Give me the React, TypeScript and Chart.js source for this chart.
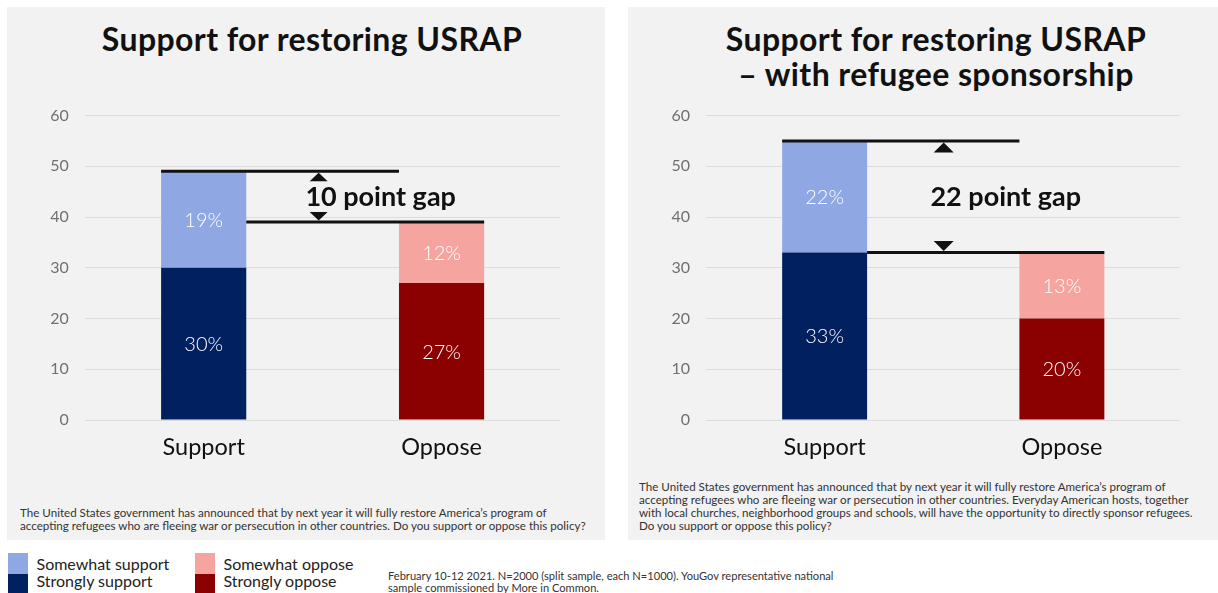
import React, { useEffect, useRef } from 'react';
import { Chart, registerables } from 'chart.js';

Chart.register(...registerables);

// ---- data ----
const categories = ['Support', 'Oppose'];
const seriesNames = ['Strongly support', 'Somewhat support', 'Strongly oppose', 'Somewhat oppose'];
const seriesColors = ['#002060', '#8fa8e4', '#8b0000', '#f6a4a0'];
const yTickStep = 10;
const yMax = 60;

// left chart: Support for restoring USRAP
const leftStrongly = [30, 27]; // strongly support, strongly oppose
const leftSomewhat = [19, 12]; // somewhat support, somewhat oppose
// right chart: with refugee sponsorship
const rightStrongly = [33, 20];
const rightSomewhat = [22, 13];

const leftTitle = ['Support for restoring USRAP'];
const rightTitle = ['Support for restoring USRAP', '\u2013 with refugee sponsorship'];

const leftNote = [
  'The United States government has announced that by next year it will fully restore America\u2019s program of',
  'accepting refugees who are fleeing war or persecution in other countries. Do you support or oppose this policy?',
];
const rightNote = [
  'The United States government has announced that by next year it will fully restore America\u2019s program of',
  'accepting refugees who are fleeing war or persecution in other countries. Everyday American hosts, together',
  'with local churches, neighborhood groups and schools, will have the opportunity to directly sponsor refugees.',
  'Do you support or oppose this policy?',
];
const sourceNote = [
  'February 10-12 2021. N=2000 (split sample, each N=1000). YouGov representative national',
  'sample commissioned by More in Common.',
];

const FONT = 'Lato, "Open Sans", sans-serif';

const labelPlugin = {
  id: 'segLabels',
  afterDatasetsDraw(chart: any) {
    const { ctx } = chart;
    ctx.save();
    ctx.fillStyle = '#ffffff';
    ctx.font = `300 20px ${FONT}`;
    ctx.textAlign = 'center';
    ctx.textBaseline = 'middle';
    chart.data.datasets.forEach((ds: any, di: number) => {
      const meta = chart.getDatasetMeta(di);
      meta.data.forEach((el: any, i: number) => {
        const v = ds.data[i];
        if (v === null || v === undefined) return;
        ctx.fillText(`${v}%`, el.x, (el.y + el.base) / 2 + 1);
      });
    });
    ctx.restore();
  },
};

const gapPlugin = {
  id: 'gap',
  afterDatasetsDraw(chart: any, _args: any, opts: any) {
    const { ctx } = chart;
    const y = chart.scales.y;
    const sup = chart.getDatasetMeta(1).data[0];
    const opp = chart.getDatasetMeta(3).data[1];
    const supLeft = sup.x - sup.width / 2;
    const supRight = sup.x + sup.width / 2;
    const oppLeft = opp.x - opp.width / 2;
    const oppRight = opp.x + opp.width / 2;
    const topY = y.getPixelForValue(opts.top);
    const botY = y.getPixelForValue(opts.bottom);
    ctx.save();
    ctx.strokeStyle = '#111111';
    ctx.fillStyle = '#111111';
    ctx.lineWidth = 3;
    ctx.beginPath();
    ctx.moveTo(supLeft, topY);
    ctx.lineTo(oppLeft, topY);
    ctx.moveTo(supRight, botY);
    ctx.lineTo(oppRight, botY);
    ctx.stroke();
    const ax = supRight + (oppLeft - supRight) * opts.arrowFrac;
    const w = opts.arrowW / 2;
    const h = opts.arrowH;
    // up arrow below top line
    const t1 = topY + 1.5;
    ctx.beginPath();
    ctx.moveTo(ax, t1);
    ctx.lineTo(ax + w, t1 + h);
    ctx.lineTo(ax - w, t1 + h);
    ctx.closePath();
    ctx.fill();
    // down arrow above bottom line
    const t2 = botY - 1.5;
    ctx.beginPath();
    ctx.moveTo(ax, t2);
    ctx.lineTo(ax + w, t2 - h);
    ctx.lineTo(ax - w, t2 - h);
    ctx.closePath();
    ctx.fill();
    ctx.font = `700 27px ${FONT}`;
    ctx.textAlign = 'center';
    ctx.textBaseline = 'middle';
    ctx.fillText(`${opts.top - opts.bottom} point gap`, ax + opts.textDx, y.getPixelForValue(opts.textValue));
    ctx.restore();
  },
};

function makeDatasets(strongly: number[], somewhat: number[]) {
  return [
    { label: seriesNames[0], data: [strongly[0], null], backgroundColor: seriesColors[0] },
    { label: seriesNames[1], data: [somewhat[0], null], backgroundColor: seriesColors[1] },
    { label: seriesNames[2], data: [null, strongly[1]], backgroundColor: seriesColors[2] },
    { label: seriesNames[3], data: [null, somewhat[1]], backgroundColor: seriesColors[3] },
  ].map((d) => ({ ...d, stack: 's', categoryPercentage: 1, barPercentage: 0.358, borderWidth: 0 }));
}

type ChartProps = {
  strongly: number[];
  somewhat: number[];
  left: number;
  width: number;
  yWidth: number;
  padRight: number;
  arrowFrac: number;
  arrowW: number;
  arrowH: number;
};

function BarPanel(p: ChartProps) {
  const ref = useRef<HTMLCanvasElement>(null);
  useEffect(() => {
    if (!ref.current) return;
    const top = p.strongly[0] + p.somewhat[0];
    const bottom = p.strongly[1] + p.somewhat[1];
    const chart = new Chart(ref.current, {
      type: 'bar',
      data: { labels: categories, datasets: makeDatasets(p.strongly, p.somewhat) as any },
      plugins: [labelPlugin, gapPlugin],
      options: {
        animation: false,
        responsive: false,
        devicePixelRatio: 1,
        layout: { padding: { left: 0, right: p.padRight, top: 15.5, bottom: 0 } },
        plugins: {
          legend: { display: false },
          tooltip: { enabled: false },
          gap: { top, bottom, arrowFrac: p.arrowFrac, arrowW: p.arrowW, arrowH: p.arrowH, textDx: 62, textValue: 43.8 },
        } as any,
        scales: {
          x: {
            stacked: true,
            grid: { display: false, drawTicks: false },
            border: { display: false },
            ticks: { color: '#111111', font: { family: FONT, size: 23.5 }, padding: 13 },
            afterFit: (s: any) => {
              s.height = 60;
              s.paddingLeft = 0;
              s.paddingRight = 0;
            },
          },
          y: {
            stacked: true,
            min: 0,
            max: yMax,
            grid: { color: '#dcdcdc', lineWidth: 1, drawTicks: false },
            border: { display: false },
            ticks: { stepSize: yTickStep, color: '#707070', font: { family: FONT, size: 16 }, padding: 16 },
            afterFit: (s: any) => {
              s.width = p.yWidth;
              s.paddingTop = 0;
              s.paddingBottom = 0;
            },
          },
        },
      },
    });
    return () => chart.destroy();
  }, []);
  return (
    <canvas
      ref={ref}
      width={p.width}
      height={380}
      style={{ position: 'absolute', left: p.left, top: 100, width: p.width, height: 380 }}
    />
  );
}

function TextLines({ lines, style }: { lines: string[]; style: React.CSSProperties }) {
  return (
    <div style={{ position: 'absolute', whiteSpace: 'nowrap', ...style }}>
      {lines.map((l, i) => (
        <div key={i}>{l}</div>
      ))}
    </div>
  );
}

function LegendItem({ x, colors, labels }: { x: number; colors: string[]; labels: string[] }) {
  return (
    <>
      <div style={{ position: 'absolute', left: x, top: 553, width: 20, height: 21, background: colors[0] }} />
      <div style={{ position: 'absolute', left: x, top: 574, width: 20, height: 22, background: colors[1] }} />
      <TextLines
        lines={labels}
        style={{ left: x + 28.5, top: 555, fontSize: 16, lineHeight: '17px', color: '#222' }}
      />
    </>
  );
}

export default function App() {
  return (
    <div
      style={{
        position: 'absolute',
        left: 0,
        top: 0,
        width: 1218,
        height: 593,
        overflow: 'hidden',
        background: '#ffffff',
        fontFamily: FONT,
      }}
    >
      <div style={{ position: 'absolute', left: 7, top: 7, width: 598, height: 533, background: '#f2f2f2' }} />
      <div style={{ position: 'absolute', left: 628, top: 7, width: 590, height: 533, background: '#f2f2f2' }} />

      <TextLines
        lines={leftTitle}
        style={{ left: 12, width: 600, top: 21, textAlign: 'center', fontSize: 32, fontWeight: 700, letterSpacing: '0.4px', lineHeight: '36px', color: '#111' }}
      />
      <TextLines
        lines={rightTitle}
        style={{ left: 636, width: 600, top: 21, textAlign: 'center', fontSize: 32, fontWeight: 700, letterSpacing: '0.4px', lineHeight: '35px', color: '#111' }}
      />

      <BarPanel
        strongly={leftStrongly}
        somewhat={leftSomewhat}
        left={7}
        width={598}
        yWidth={77.75}
        padRight={44.5}
        arrowFrac={0.474}
        arrowW={18}
        arrowH={8.5}
      />
      <BarPanel
        strongly={rightStrongly}
        somewhat={rightSomewhat}
        left={628}
        width={590}
        yWidth={78}
        padRight={37.5}
        arrowFrac={0.503}
        arrowW={20}
        arrowH={10}
      />

      <TextLines lines={leftNote} style={{ left: 20, top: 506, fontSize: 11.6, lineHeight: '13px', color: '#333' }} />
      <TextLines lines={rightNote} style={{ left: 639, top: 479.5, fontSize: 11.6, lineHeight: '13.3px', color: '#333' }} />

      <LegendItem x={8} colors={[seriesColors[1], seriesColors[0]]} labels={[seriesNames[1], seriesNames[0]]} />
      <LegendItem x={195} colors={[seriesColors[3], seriesColors[2]]} labels={[seriesNames[3], seriesNames[2]]} />

      <TextLines lines={sourceNote} style={{ left: 388, top: 570, fontSize: 11.1, lineHeight: '12px', color: '#333' }} />
    </div>
  );
}
